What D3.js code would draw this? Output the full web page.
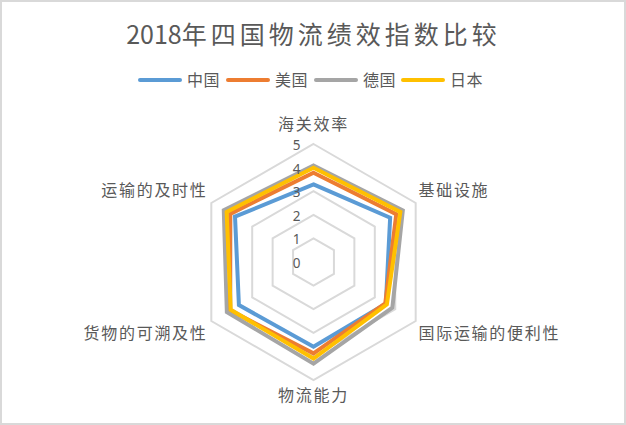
<!DOCTYPE html>
<html>
<head>
<meta charset="utf-8">
<script src="https://cdn.jsdelivr.net/npm/d3@7"></script>
<style>
  html, body { margin: 0; padding: 0; background: #fff; }
  svg { display: block; font-family: "Noto Sans CJK SC", "Noto Sans", sans-serif; }
</style>
</head>
<body>
<svg id="chart" width="626" height="425"></svg>
<script>
// 2018 LPI scores, axes clockwise from the top
var axes = ['海关效率', '基础设施', '国际运输的便利性', '物流能力', '货物的可溯及性', '运输的及时性'];
var seriesNames = ['中国', '美国', '德国', '日本'];
var china   = [3.29, 3.75, 3.54, 3.59, 3.65, 3.84];
var usa     = [3.78, 4.05, 3.51, 3.87, 4.09, 4.08];
var germany = [4.09, 4.37, 3.86, 4.31, 4.24, 4.39];
var japan   = [3.99, 4.25, 3.59, 4.09, 4.05, 4.25];
var ticks = [0, 1, 2, 3, 4, 5];

var colors = ['#5B9BD5', '#ED7D31', '#A5A5A5', '#FFC000'],
    textColor = '#595959',
    series = [china, usa, germany, japan],
    width = 626,
    height = 425,
    cx = 313.5,
    cy = 262,
    radius = 118;

var svg = d3.select('#chart');

// outer frame
svg.append('rect')
  .attr('x', 1).attr('y', 1)
  .attr('width', width - 2).attr('height', height - 2)
  .attr('fill', '#fff')
  .attr('stroke', '#D9D9D9')
  .attr('stroke-width', 2);

// title
var title = svg.append('text')
  .attr('x', cx)
  .attr('y', 44)
  .attr('text-anchor', 'middle')
  .attr('fill', textColor)
  .style('font-size', '25px');
title.append('tspan').text('2018');
title.append('tspan').style('letter-spacing', '4px').text('年四国物流绩效指数比较');

// legend
var legendX = [138, 226, 314, 401];
var legend = svg.selectAll('g.legend')
  .data(seriesNames)
  .enter()
  .append('g')
  .attr('class', 'legend')
  .attr('transform', function(d, i) { return 'translate(' + legendX[i] + ',80)'; });

legend.append('line')
  .attr('x1', 2).attr('x2', 42)
  .attr('y1', 0).attr('y2', 0)
  .attr('stroke', function(d, i) { return colors[i]; })
  .attr('stroke-width', 4)
  .attr('stroke-linecap', 'round');

legend.append('text')
  .attr('x', 49)
  .attr('y', 6)
  .attr('fill', textColor)
  .style('font-size', '16px')
  .style('letter-spacing', '0.6px')
  .text(function(d) { return d; });

// radar
var r = d3.scaleLinear().domain([0, 5]).range([0, radius]);
var angle = d3.scaleLinear().domain([0, axes.length]).range([0, 2 * Math.PI]);

var g = svg.append('g').attr('transform', 'translate(' + cx + ',' + cy + ')');

var radial = d3.lineRadial()
  .angle(function(d, i) { return angle(i); })
  .radius(function(d) { return r(d); })
  .curve(d3.curveLinearClosed);

// grid rings
g.selectAll('path.ring')
  .data(ticks.slice(1))
  .enter()
  .append('path')
  .attr('class', 'ring')
  .attr('d', function(t) { return radial(axes.map(function() { return t; })); })
  .attr('fill', 'none')
  .attr('stroke', '#D9D9D9')
  .attr('stroke-width', 2);

// series
g.selectAll('path.series')
  .data(series)
  .enter()
  .append('path')
  .attr('class', 'series')
  .attr('d', radial)
  .attr('fill', 'none')
  .attr('stroke', function(d, i) { return colors[i]; })
  .attr('stroke-width', 4)
  .attr('stroke-linejoin', 'miter');

// tick labels
g.selectAll('text.tick')
  .data(ticks)
  .enter()
  .append('text')
  .attr('class', 'tick')
  .attr('x', -17)
  .attr('y', function(t) { return -r(t); })
  .attr('dy', '0.45em')
  .attr('text-anchor', 'middle')
  .attr('fill', textColor)
  .style('font-family', '"Noto Sans", sans-serif')
  .style('font-size', '13.5px')
  .text(function(t) { return t; });

// axis labels
var labelPos = [
  {x: 0,    y: -138, anchor: 'middle'},
  {x: 105,  y: -72,  anchor: 'start'},
  {x: 105,  y: 71,   anchor: 'start'},
  {x: 0,    y: 133,  anchor: 'middle'},
  {x: -106, y: 71,   anchor: 'end'},
  {x: -106, y: -72,  anchor: 'end'}
];

g.selectAll('text.axis-label')
  .data(axes)
  .enter()
  .append('text')
  .attr('class', 'axis-label')
  .attr('x', function(d, i) { return labelPos[i].x; })
  .attr('y', function(d, i) { return labelPos[i].y; })
  .attr('dy', '0.35em')
  .attr('text-anchor', function(d, i) { return labelPos[i].anchor; })
  .attr('fill', textColor)
  .style('font-size', '16px')
  .style('letter-spacing', '1.7px')
  .text(function(d) { return d; });
</script>
</body>
</html>
